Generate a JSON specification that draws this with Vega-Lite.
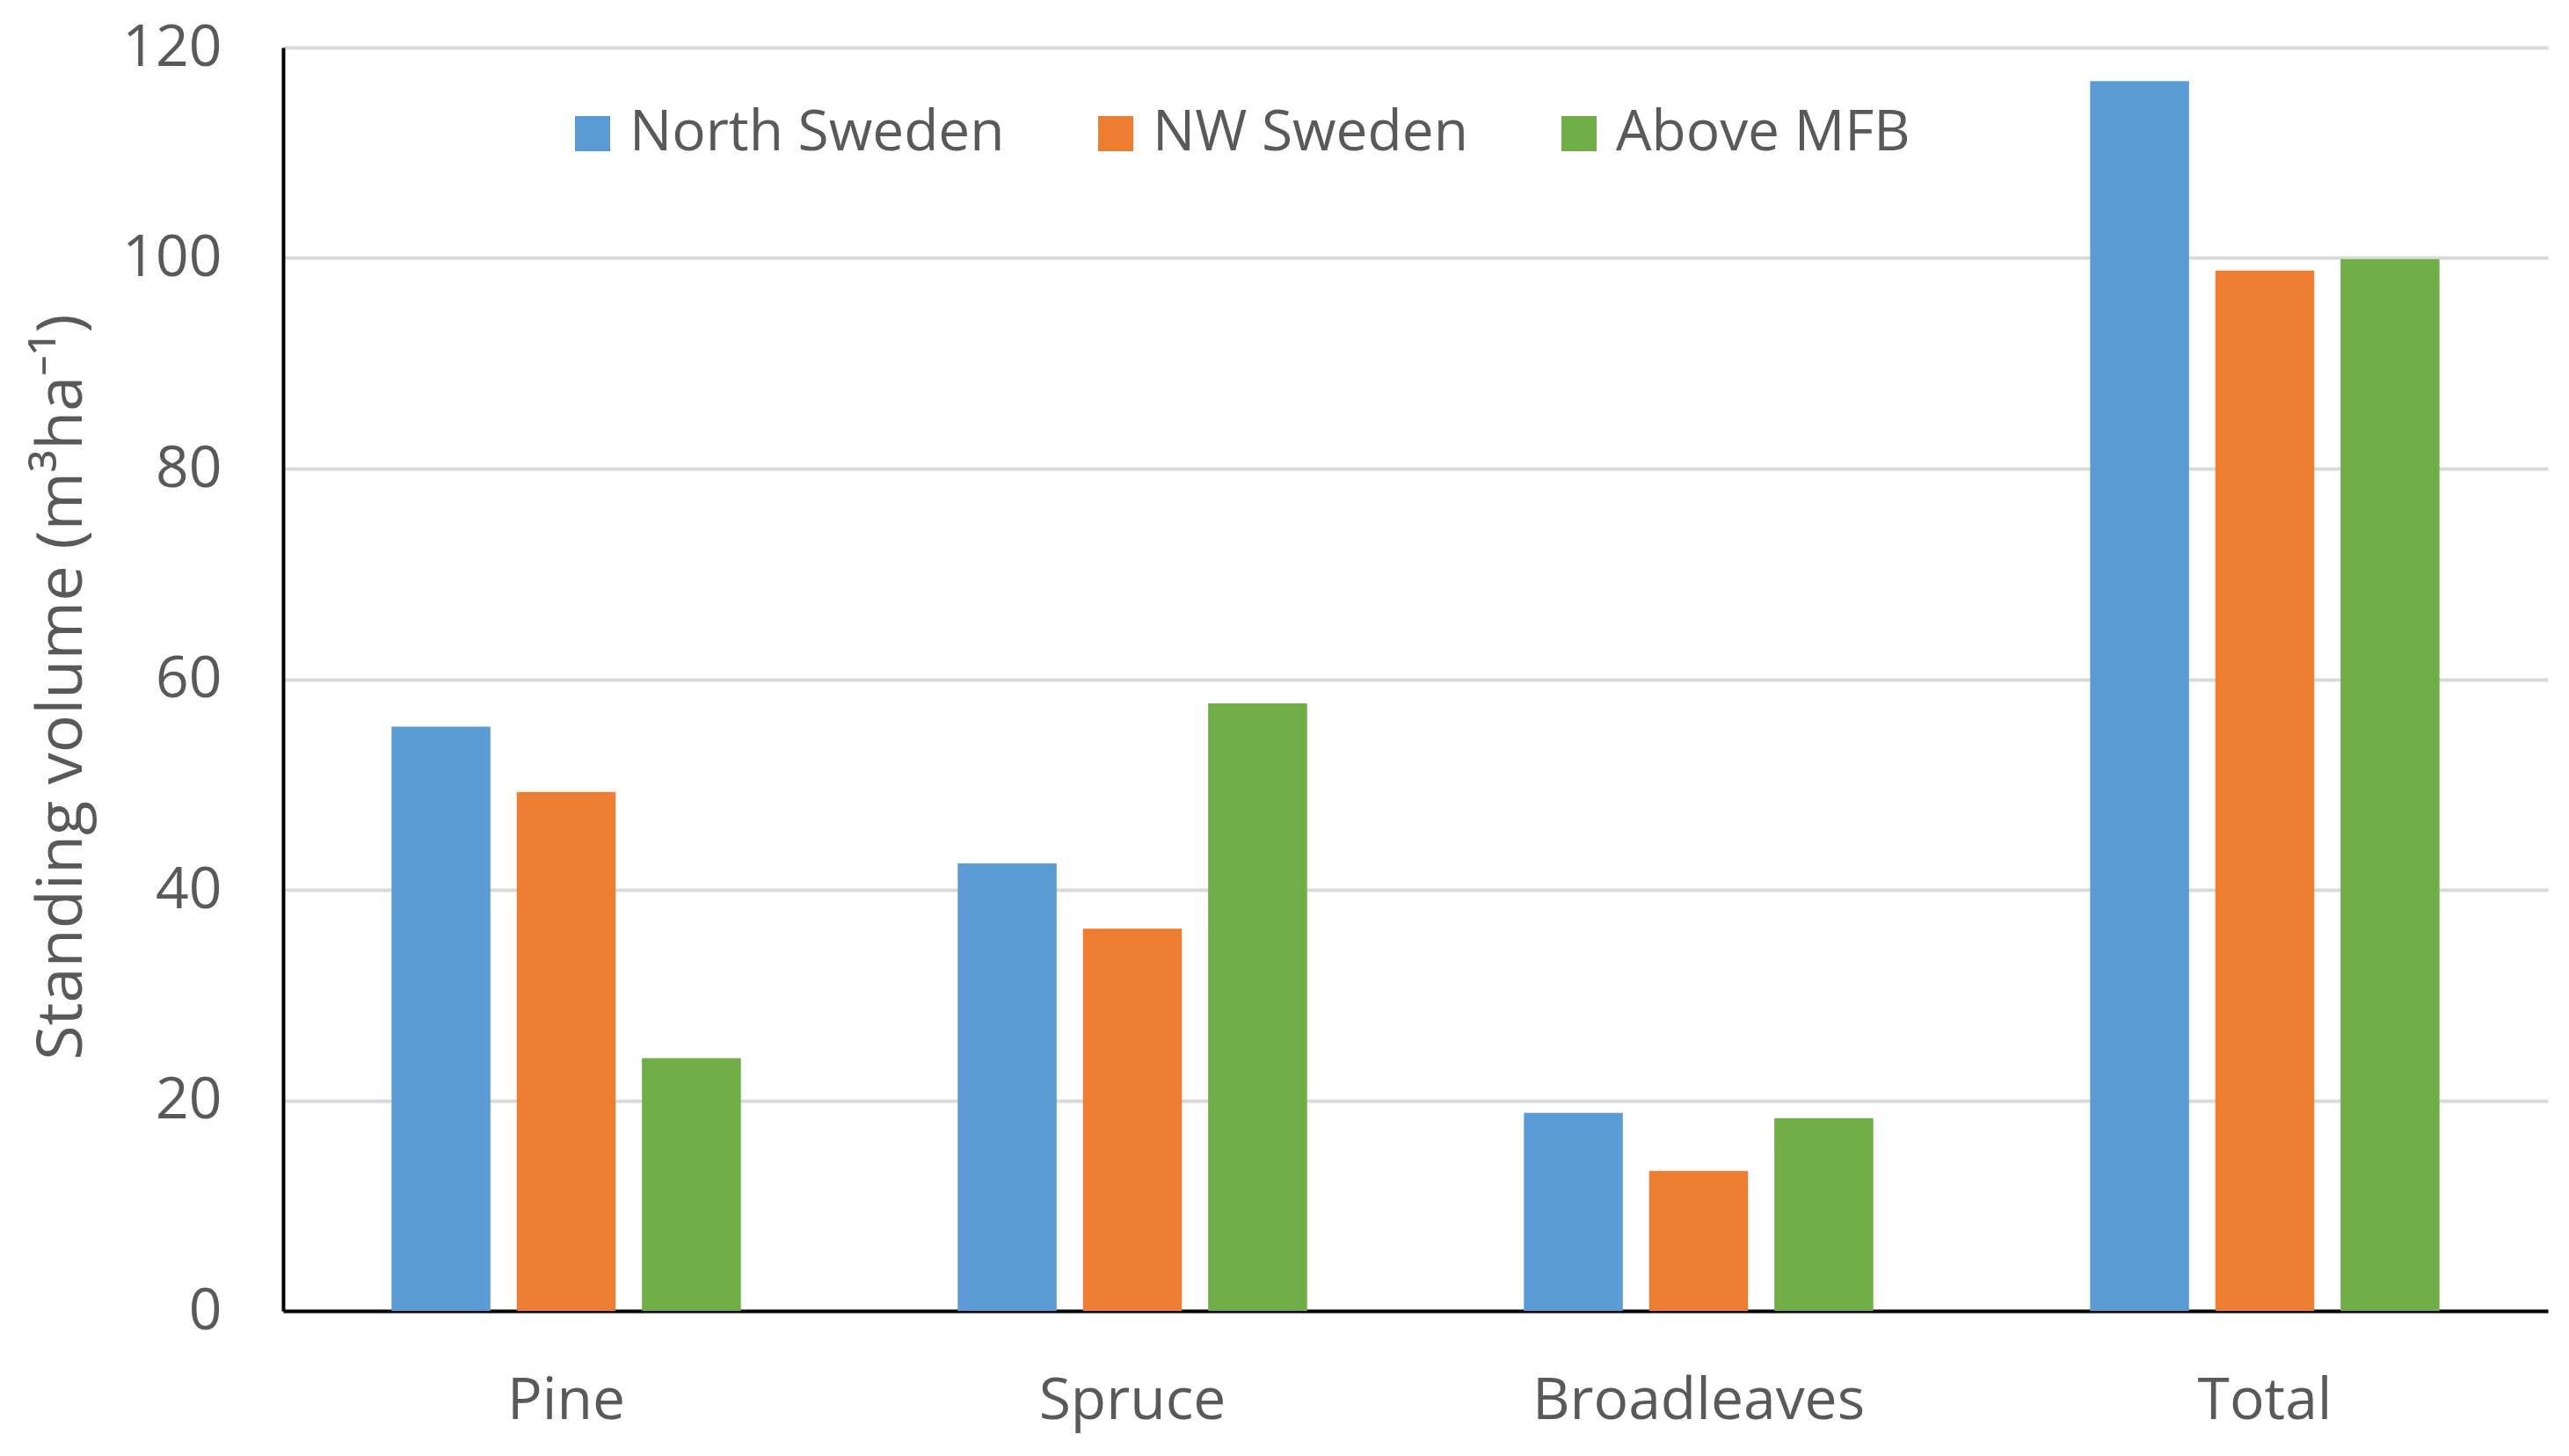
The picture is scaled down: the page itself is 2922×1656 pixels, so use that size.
{
  "$schema": "https://vega.github.io/schema/vega-lite/v6.json",
  "width": 2576,
  "height": 1437,
  "autosize": {"type": "none"},
  "padding": {"left": 322, "top": 54, "right": 24, "bottom": 165},
  "background": "white",
  "config": {
    "font": "Open Sans",
    "view": {"stroke": null}
  },
  "data": {
    "values": [
      {"category": "Pine", "series": "North Sweden", "value": 55.5},
      {"category": "Pine", "series": "NW Sweden", "value": 49.3},
      {"category": "Pine", "series": "Above MFB", "value": 24.0},
      {"category": "Spruce", "series": "North Sweden", "value": 42.5},
      {"category": "Spruce", "series": "NW Sweden", "value": 36.3},
      {"category": "Spruce", "series": "Above MFB", "value": 57.7},
      {"category": "Broadleaves", "series": "North Sweden", "value": 18.8},
      {"category": "Broadleaves", "series": "NW Sweden", "value": 13.3},
      {"category": "Broadleaves", "series": "Above MFB", "value": 18.3},
      {"category": "Total", "series": "North Sweden", "value": 116.8},
      {"category": "Total", "series": "NW Sweden", "value": 98.8},
      {"category": "Total", "series": "Above MFB", "value": 99.9}
    ]
  },
  "mark": {"type": "bar"},
  "encoding": {
    "x": {
      "field": "category",
      "type": "nominal",
      "sort": ["Pine", "Spruce", "Broadleaves", "Total"],
      "scale": {"paddingInner": 0.383, "paddingOuter": 0.1915},
      "axis": {
        "title": null,
        "labelAngle": 0,
        "labelFontSize": 66,
        "labelColor": "#595959",
        "labelPadding": 70,
        "labelLimit": 1000,
        "ticks": false,
        "domainColor": "#000000",
        "domainWidth": 4,
        "grid": false
      }
    },
    "xOffset": {
      "field": "series",
      "type": "nominal",
      "sort": ["North Sweden", "NW Sweden", "Above MFB"],
      "scale": {"paddingInner": 0.21, "paddingOuter": 0}
    },
    "y": {
      "field": "value",
      "type": "quantitative",
      "scale": {"domain": [0, 120], "nice": false},
      "axis": {
        "values": [0, 20, 40, 60, 80, 100, 120],
        "title": "Standing volume (m³ha⁻¹)",
        "titleFontSize": 72,
        "titleFontWeight": "normal",
        "titleColor": "#595959",
        "titleX": -252,
        "titleY": 727,
        "titleAngle": -90,
        "titleAlign": "center",
        "titleBaseline": "middle",
        "labelFontSize": 66,
        "labelColor": "#595959",
        "labelPadding": 70,
        "ticks": false,
        "domainColor": "#000000",
        "domainWidth": 4,
        "grid": true,
        "gridColor": "#d9d9d9",
        "gridWidth": 4
      }
    },
    "color": {
      "field": "series",
      "type": "nominal",
      "sort": ["North Sweden", "NW Sweden", "Above MFB"],
      "scale": {
        "domain": ["North Sweden", "NW Sweden", "Above MFB"],
        "range": ["#5b9bd5", "#ed7d31", "#70ad47"]
      },
      "legend": {
        "title": null,
        "orient": "none",
        "direction": "horizontal",
        "legendX": 320,
        "legendY": 66,
        "symbolType": "square",
        "symbolSize": 1600,
        "symbolStrokeWidth": 0,
        "labelFontSize": 64,
        "labelColor": "#595959",
        "labelOffset": 10,
        "columnPadding": 94,
        "labelLimit": 1000
      }
    }
  }
}
